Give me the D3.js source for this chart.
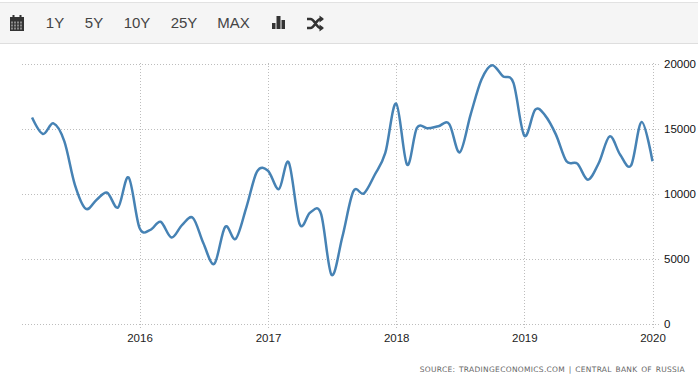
<!DOCTYPE html>
<html><head><meta charset="utf-8">
<script src="https://cdn.jsdelivr.net/npm/d3@7"></script>
<style>
html,body{margin:0;padding:0;background:#fff;overflow:hidden}
svg{display:block}
text{font-family:"Liberation Sans",Arial,sans-serif}
</style></head><body><svg id="c" width="698" height="379"></svg>
<script>
const startMonth = "2015-03";
const values = [15850,14590,15400,14020,10690,8850,9540,10080,8950,11250,
7380,7230,7850,6640,7590,8150,6200,4620,7460,6540,9020,11720,
11770,10360,12410,7670,8560,8460,3770,6720,10180,10020,11460,13130,
16920,12230,15050,15020,15180,15360,13180,16080,18770,19870,19020,18510,
14460,16460,16020,14540,12490,12310,11080,12360,14410,13000,12180,15510,
12490];
const yTicks = [0,5000,10000,15000,20000];
const xTickYears = [2016,2017,2018,2019,2020];
const rangeButtons = ["1Y","5Y","10Y","25Y","MAX"];
const buttonX = [55,94,137,184,233.5];
const sourceText = "SOURCE: TRADINGECONOMICS.COM | CENTRAL BANK OF RUSSIA";

const svg = d3.select("#c");
const start = d3.timeParse("%Y-%m")(startMonth);
const dates = values.map((_,i)=>d3.timeMonth.offset(start,i));
const x = d3.scaleTime().domain([new Date(2016,0,1),new Date(2020,0,1)]).range([139.5,652.5]);
const y = d3.scaleLinear().domain([0,20000]).range([324,63.5]);

// toolbar
svg.append("rect").attr("x",0).attr("y",2).attr("width",698).attr("height",41)
  .attr("fill","#f5f5f5");
svg.append("line").attr("x1",0).attr("x2",698).attr("y1",2.5).attr("y2",2.5).attr("stroke","#e2e2e2");
svg.append("line").attr("x1",0).attr("x2",698).attr("y1",43.5).attr("y2",43.5).attr("stroke","#dedede");
svg.selectAll("text.btn").data(rangeButtons).join("text").attr("class","btn")
  .attr("x",(d,i)=>buttonX[i]).attr("y",28).attr("text-anchor","middle")
  .attr("font-size",15).attr("fill","#444").text(d=>d);
// calendar icon
const cal = svg.append("g").attr("fill","#333");
cal.append("rect").attr("x",10).attr("y",17).attr("width",14).attr("height",14);
cal.append("rect").attr("x",12.5).attr("y",15).attr("width",2).attr("height",3);
cal.append("rect").attr("x",19.5).attr("y",15).attr("width",2).attr("height",3);
d3.range(4).forEach(i=>d3.range(3).forEach(j=>{
  cal.append("rect").attr("x",11+i*3).attr("y",21.5+j*3).attr("width",2).attr("height",2).attr("fill","#8a8a8a");
}));
// bars icon
const bars = svg.append("g").attr("fill","#333");
bars.append("rect").attr("x",272).attr("y",23).attr("width",3.5).attr("height",6);
bars.append("rect").attr("x",276.5).attr("y",16).attr("width",4).attr("height",13);
bars.append("rect").attr("x",281.5).attr("y",20).attr("width",3.5).attr("height",9);
// shuffle icon
svg.append("path").attr("fill","none").attr("stroke","#333").attr("stroke-width",2.6)
  .attr("d","M307 19h3.5c4 0 6 9 10 9h2 M307 28h3.5c4 0 6 -9 10 -9h2");
svg.append("path").attr("fill","#333").attr("d","M319.5 15.5l4.5 3.5l-4.5 3.5z M319.5 24.5l4.5 3.5l-4.5 3.5z");

// grid + axes
const yAxis = d3.axisRight(y).tickValues(yTicks).tickFormat(d3.format("d")).tickSize(0).tickPadding(11);
const gy = svg.append("g").attr("transform","translate(653,0)").call(yAxis);
gy.select(".domain").remove();
gy.selectAll("text").attr("font-size",11.5).attr("fill","#111").attr("font-family",'"Liberation Sans",Arial,sans-serif');
svg.append("g").selectAll("line").data(yTicks).join("line")
  .attr("x1",22).attr("x2",660).attr("y1",d=>Math.round(y(d))+.5).attr("y2",d=>Math.round(y(d))+.5)
  .attr("stroke","#bdbdbd").attr("stroke-dasharray","1,2");
const xAxis = d3.axisBottom(x).tickValues(xTickYears.map(v=>new Date(v,0,1))).tickFormat(d3.timeFormat("%Y")).tickSize(0).tickPadding(10);
const gx = svg.append("g").attr("transform","translate(0,324)").call(xAxis);
gx.select(".domain").remove();
gx.selectAll("text").attr("font-size",11.5).attr("fill","#222").attr("font-family",'"Liberation Sans",Arial,sans-serif');
svg.append("g").selectAll("line").data(xTickYears).join("line")
  .attr("x1",d=>Math.round(x(new Date(d,0,1)))+.5).attr("x2",d=>Math.round(x(new Date(d,0,1)))+.5)
  .attr("y1",63).attr("y2",329)
  .attr("stroke","#bdbdbd").attr("stroke-dasharray","1,2");

// line
const line = d3.line().x((d,i)=>x(dates[i])).y(d=>y(d)).curve(d3.curveCardinal.tension(0));
svg.append("path").datum(values).attr("d",line).attr("fill","none")
  .attr("stroke","#4682b4").attr("stroke-width",2.5).attr("stroke-linejoin","round");

svg.append("text").attr("x",685).attr("y",372).attr("text-anchor","end")
  .attr("font-size",7.5).attr("fill","#666").attr("letter-spacing",.3).attr("word-spacing",1)
  .style("font-family",'"DejaVu Sans",sans-serif').text(sourceText);
</script></body></html>
